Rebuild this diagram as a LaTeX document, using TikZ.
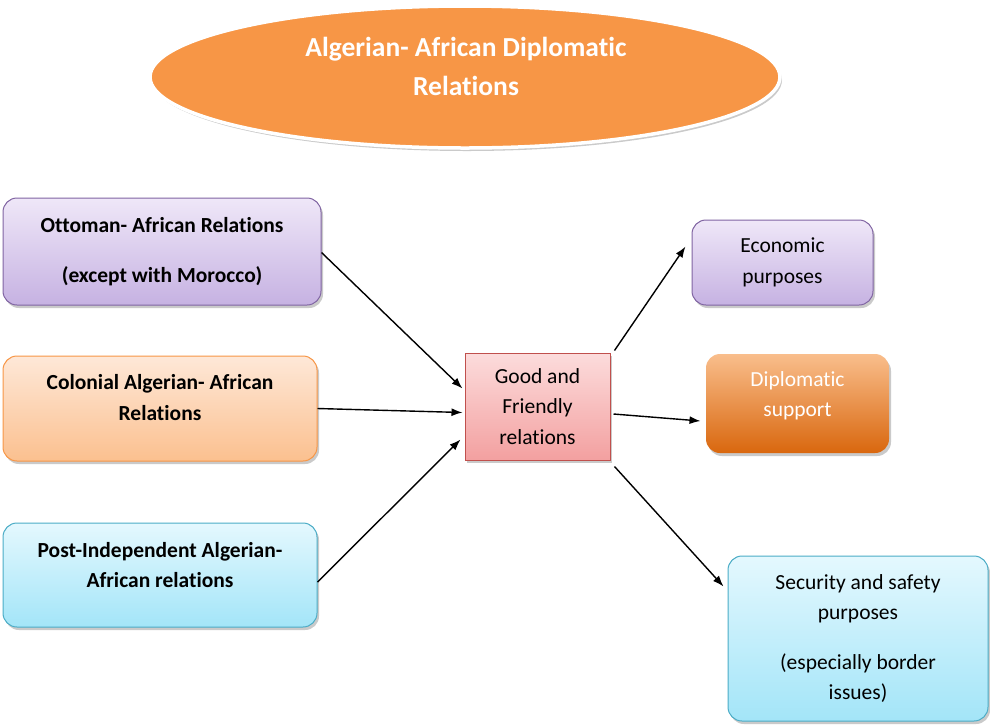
\documentclass[tikz,border=0pt]{standalone}
\usepackage{fontspec}
\setmainfont{Carlito}[Ligatures=NoCommon]
\usetikzlibrary{arrows.meta,shapes.geometric,shadows,calc}

\definecolor{purTop}{HTML}{EFE7F8}
\definecolor{purBot}{HTML}{C6B2E2}
\definecolor{purLine}{HTML}{8064A2}
\definecolor{orgTop}{HTML}{FEE8D8}
\definecolor{orgBot}{HTML}{FBC08F}
\definecolor{orgLine}{HTML}{F79646}
\definecolor{cyaTop}{HTML}{E4F8FE}
\definecolor{cyaBot}{HTML}{A3E5F8}
\definecolor{cyaLine}{HTML}{4BACC6}
\definecolor{redTop}{HTML}{FCDCDC}
\definecolor{redBot}{HTML}{F3A0A0}
\definecolor{redLine}{HTML}{C0504D}
\definecolor{dipTop}{HTML}{F9BE8C}
\definecolor{dipBot}{HTML}{D9670E}
\definecolor{titleFill}{HTML}{F79646}

% invisible strut that deepens the last line, lifting the text block
\newcommand\dropby[1]{\rule[-#1]{0pt}{#1}}

\tikzset{
  softshadow/.style={drop shadow={opacity=0.35, shadow xshift=2pt, shadow yshift=-3pt, fill=black!60}},
  box/.style={rectangle, rounded corners=14pt, line width=1pt, inner sep=0pt,
    align=center, softshadow, font=\fontsize{21.5}{30.5}\selectfont},
  purplebox/.style={box, draw=purLine, top color=purTop, bottom color=purBot},
  orangebox/.style={box, draw=orgLine, top color=orgTop, bottom color=orgBot},
  cyanbox/.style={box, draw=cyaLine, top color=cyaTop, bottom color=cyaBot},
  pinkbox/.style={box, rounded corners=0pt, draw=redLine, top color=redTop, bottom color=redBot},
  darkbox/.style={box, draw=none, top color=dipTop, bottom color=dipBot, text=white},
  link/.style={line width=1.4pt, -{Latex[length=11pt,width=8pt]}},
}

\begin{document}
\begin{tikzpicture}[x=1pt,y=-1pt]
\useasboundingbox (0,0) rectangle (990,724);

% title ellipse
\node[ellipse, draw=white, line width=3.5pt, fill=titleFill, minimum width=630pt,
      minimum height=142pt, softshadow] (title) at (465,77) {};
\node[text=white, align=center, font=\bfseries\fontsize{27.5}{39}\selectfont]
      (titletext) at (466,66) {Algerian- African Diplomatic\\Relations};

% sources
\node[purplebox, minimum width=318pt, minimum height=107pt] (ott) at (162,251.5)
  {\bfseries Ottoman- African Relations\\[19pt]\bfseries (except with Morocco)};
\node[orangebox, minimum width=314pt, minimum height=105pt] (col) at (160,408.5)
  {\bfseries Colonial Algerian- African\\\bfseries Relations\dropby{22pt}};
\node[cyanbox, minimum width=314pt, minimum height=104pt] (post) at (160,575)
  {\bfseries Post-Independent Algerian-\\\bfseries African relations\dropby{20pt}};

% hub
\node[pinkbox, minimum width=145pt, minimum height=107pt] (good) at (537.5,406.5)
  {Good and\\Friendly\\relations};

% outcomes
\node[purplebox, minimum width=181pt, minimum height=85pt] (econ) at (782.5,262.5)
  {Economic\\purposes};
\node[darkbox, minimum width=183pt, minimum height=99pt] (dipl) at (797.5,403.5)
  {Diplomatic\\support\dropby{19pt}};
\node[cyanbox, minimum width=260pt, minimum height=165pt] (sec) at (858,638.5)
  {Security and safety\\purposes\\[19pt](especially border\\issues)};

% connectors
\draw[link] ([yshift=-1pt]ott.east) -- ([yshift=18pt,xshift=-2pt]good.west);
\draw[link] (col.east) -- ([yshift=-6pt,xshift=-2pt]good.west);
\draw[link] ([yshift=-7pt]post.east) -- ([yshift=-33pt,xshift=-4pt]good.west);
\draw[link] ([xshift=4pt,yshift=2pt]good.north east) -- ([xshift=-6pt,yshift=16pt]econ.west);
\draw[link] ([xshift=3pt,yshift=-7.5pt]good.east) -- ([xshift=-5pt,yshift=-17.5pt]dipl.west);
\draw[link] ([xshift=4pt,yshift=-6pt]good.south east) -- ([xshift=-4pt,yshift=-31pt]sec.north west);
\end{tikzpicture}
\end{document}
